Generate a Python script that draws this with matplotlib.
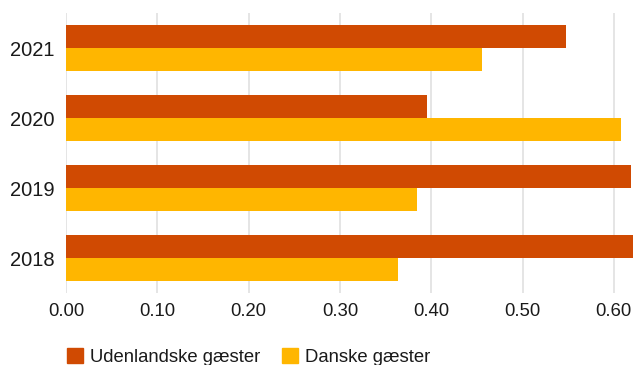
import matplotlib.pyplot as plt
from matplotlib.patches import Patch
import numpy as np

years = ["2018", "2019", "2020", "2021"]
udenlandske = [0.630, 0.619, 0.395, 0.548]
danske = [0.364, 0.384, 0.608, 0.456]
xticks = [0.0, 0.1, 0.2, 0.3, 0.4, 0.5, 0.6]
labels = ["Udenlandske gæster", "Danske gæster"]
colors = ["#d04a02", "#ffb600"]

plt.rcParams['font.family'] = ['Liberation Sans', 'DejaVu Sans']

fig = plt.figure(figsize=(6.33, 3.65), dpi=100)
ax = fig.add_axes([66 / 633, 1 - 293 / 365, 1 - 66 / 633, 280 / 365])

y = np.arange(len(years))
h = 0.33
ax.barh(y + h / 2, udenlandske, height=h, color=colors[0], zorder=2)
ax.barh(y - h / 2, danske, height=h, color=colors[1], zorder=2)

ax.set_xlim(0, 0.621)
ax.set_ylim(-0.5, 3.5)
ax.set_yticks(y)
ax.set_yticklabels(years, fontsize=14.5, color="#1a1a1a")
ax.set_xticks(xticks)
ax.set_xticklabels(["%.2f" % t for t in xticks], fontsize=13.3, color="#1a1a1a")
ax.tick_params(axis="y", length=0, pad=8.5)
ax.tick_params(axis="x", length=0, pad=7)
ax.grid(axis="x", color="#dedede", linewidth=1.1, zorder=0)
for s in ax.spines.values():
    s.set_visible(False)

handles = [Patch(color=c) for c in colors]
fig.legend(handles, labels, loc="upper left", bbox_to_anchor=(67 / 633, 1 - 348 / 365),
           ncol=2, frameon=False, fontsize=13.3, handlelength=0.87, handleheight=0.87,
           handletextpad=0.4, columnspacing=1.15, borderpad=0, borderaxespad=0,
           labelcolor="#1a1a1a")

fig.savefig("out.png", dpi=100)
